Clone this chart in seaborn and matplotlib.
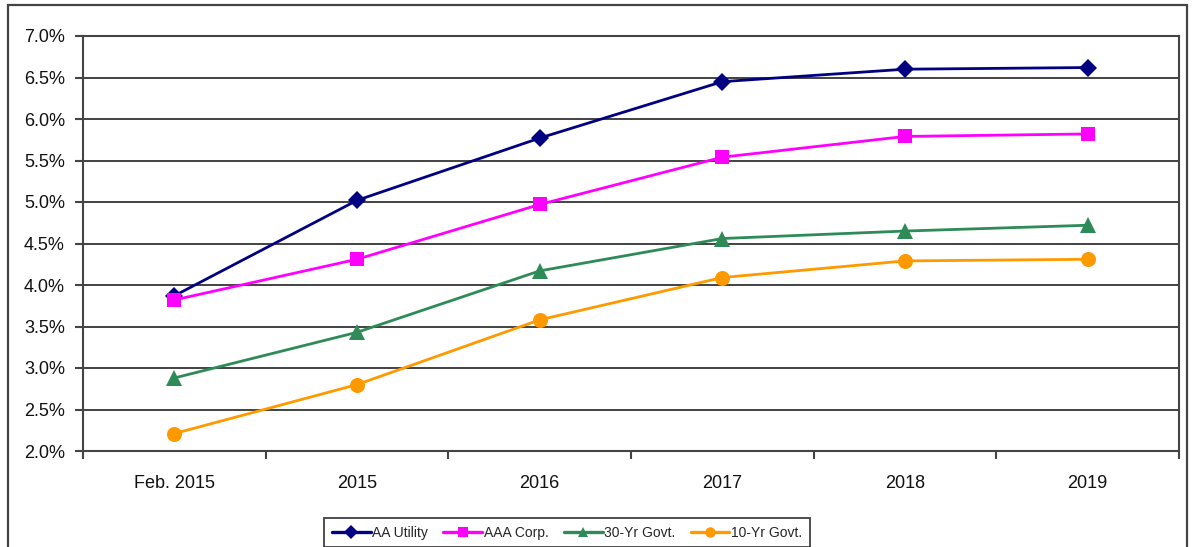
import matplotlib
matplotlib.use("Agg")
import matplotlib.pyplot as plt
import matplotlib.patches as mpatches
from matplotlib.ticker import FixedLocator, FuncFormatter
import pandas as pd
import seaborn as sns

# Category labels along the x axis
periods = ["Feb. 2015", "2015", "2016", "2017", "2018", "2019"]

# Yields in percent for each series
aa_utility = [3.87, 5.02, 5.77, 6.45, 6.60, 6.62]
aaa_corp = [3.82, 4.31, 4.97, 5.54, 5.79, 5.82]
govt_30yr = [2.88, 3.43, 4.17, 4.56, 4.65, 4.72]
govt_10yr = [2.21, 2.80, 3.58, 4.09, 4.29, 4.31]

series_names = ["AA Utility", "AAA Corp.", "30-Yr Govt.", "10-Yr Govt."]
series_values = [aa_utility, aaa_corp, govt_30yr, govt_10yr]

y_ticks = [2.0, 2.5, 3.0, 3.5, 4.0, 4.5, 5.0, 5.5, 6.0, 6.5, 7.0]

colors = {"AA Utility": "#000080", "AAA Corp.": "#FF00FF",
          "30-Yr Govt.": "#2E8B57", "10-Yr Govt.": "#FF9900"}
markers = {"AA Utility": "D", "AAA Corp.": "s",
           "30-Yr Govt.": "^", "10-Yr Govt.": "o"}
marker_sizes = {"AA Utility": 8.7, "AAA Corp.": 10.5,
                "30-Yr Govt.": 12, "10-Yr Govt.": 10.8}

rows = []
for name, vals in zip(series_names, series_values):
    for i, v in enumerate(vals):
        rows.append({"pos": i, "period": periods[i], "series": name, "value": v})
df = pd.DataFrame(rows)

sns.set_theme(style="white")
plt.rcParams["font.family"] = ["Liberation Sans", "DejaVu Sans"]

W, H = 1195, 547
fig = plt.figure(figsize=(W / 100, H / 100), dpi=100)
ax = fig.add_axes([83 / W, 1 - 451 / H, (1179 - 83) / W, (451 - 36) / H])

for name in series_names:
    sub = df[df["series"] == name]
    sns.lineplot(data=sub, x="pos", y="value", ax=ax, color=colors[name],
                 marker=markers[name], markersize=marker_sizes[name],
                 markeredgewidth=0, linewidth=2.0, label=name, sort=False,
                 zorder=3)

ax.set_xlim(-0.5, len(periods) - 0.5)
ax.set_ylim(2.0, 7.0)
ax.set_xlabel("")
ax.set_ylabel("")

# y axis: percent labels with horizontal gridlines
ax.yaxis.set_major_locator(FixedLocator(y_ticks))
ax.yaxis.set_major_formatter(FuncFormatter(lambda v, _: f"{v:.1f}%"))
ax.grid(axis="y", color="#222222", linewidth=1.2, zorder=1)
ax.grid(axis="x", visible=False)

# x axis: labels at category centres, tick marks at category boundaries
ax.xaxis.set_major_locator(FixedLocator(range(len(periods))))
ax.set_xticklabels(periods)
ax.xaxis.set_minor_locator(FixedLocator([i - 0.5 for i in range(len(periods) + 1)]))
ax.tick_params(axis="x", which="major", length=0, pad=17, labelsize=13,
               labelcolor="#111111")
ax.tick_params(axis="x", which="minor", bottom=True, length=6, width=1.5,
               color="#444444", direction="out")
ax.tick_params(axis="y", which="major", left=True, length=6, width=1.5,
               color="#444444", direction="out", pad=7, labelsize=13,
               labelcolor="#111111")

for side in ["left", "right", "top", "bottom"]:
    ax.spines[side].set_visible(True)
    ax.spines[side].set_color("#444444")
    ax.spines[side].set_linewidth(1.5)

# Legend below the plot area
handles, labels = ax.get_legend_handles_labels()
if ax.legend_:
    ax.legend_.remove()
leg = fig.legend(handles, labels, loc="upper center",
                 bbox_to_anchor=(567 / W, 1 - 518 / H), ncol=4,
                 frameon=True, fancybox=False, handlelength=2.8,
                 handletextpad=0.1, columnspacing=1.1, borderpad=0.55,
                 borderaxespad=0,
                 prop={"family": ["Liberation Sans Narrow", "Liberation Sans"],
                       "size": 10})
leg.get_frame().set_edgecolor("#111111")
leg.get_frame().set_linewidth(1.3)
for h in leg.legend_handles:
    h.set_markersize(7.5)
    h.set_linewidth(2.4)

# Outer frame around the chart
fig.patches.append(mpatches.Rectangle((8 / W, -0.02), (1187 - 8) / W, 1.02 - 5 / H,
                                      transform=fig.transFigure, fill=False,
                                      edgecolor="#444444", linewidth=1.6))

fig.savefig("out.png", dpi=100, facecolor="white")
